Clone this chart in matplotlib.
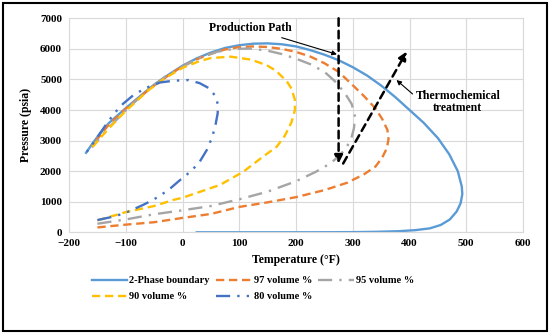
import matplotlib
matplotlib.use("Agg")
import matplotlib.pyplot as plt
from matplotlib.patches import Rectangle

# 2-phase boundary
t_2ph = [-170, -160, -150, -130, -100, -75, -50, -25, 0, 25, 50, 75, 100, 125, 150, 175, 200, 225,
         250, 275, 300, 325, 350, 375, 400, 425, 450, 470, 485, 492, 493, 490, 483, 471, 455, 436,
         410, 380, 340, 300, 250, 200, 150, 100, 50, 25]
p_2ph = [2600, 2870, 3120, 3570, 4060, 4450, 4830, 5150, 5450, 5690, 5880, 6030, 6120, 6170, 6180,
         6150, 6080, 5960, 5810, 5630, 5400, 5130, 4800, 4420, 4000, 3580, 3080, 2550, 2000, 1500,
         1250, 950, 680, 420, 240, 130, 70, 35, 15, 5, 2, 0, 0, 0, 0, 0]

# 97 volume %
t_97 = [-150, -100, -50, 0, 50, 100, 150, 200, 250, 290, 320, 340, 352, 360, 363, 361, 352, 340,
        320, 300, 275, 250, 225, 200, 175, 150, 125, 100, 75, 50, 25, 0, -25, -50, -75, -100,
        -130, -160]
p_97 = [160, 250, 330, 470, 600, 830, 980, 1150, 1380, 1620, 1900, 2150, 2450, 2750, 3050, 3350,
        3700, 4050, 4450, 4810, 5250, 5530, 5750, 5900, 6000, 6060, 6080, 6060, 5980, 5840, 5660,
        5430, 5130, 4800, 4430, 4040, 3520, 2820]

# 95 volume %
t_95 = [-150, -100, -50, 0, 50, 100, 150, 200, 235, 260, 275, 288, 297, 302, 304, 298, 285, 268,
        250, 225, 200, 175, 150, 120, 90, 60, 30, 0, -30, -60, -100, -130, -160]
p_95 = [280, 420, 590, 720, 860, 1080, 1330, 1670, 1980, 2250, 2480, 2750, 3050, 3400, 3780, 4200,
        4580, 4950, 5250, 5500, 5680, 5830, 5940, 6010, 6000, 5900, 5700, 5420, 5100, 4680, 3990,
        3420, 2780]

# 90 volume %
t_90 = [-150, -100, -50, -16, 0, 30, 66, 107, 140, 166, 180, 192, 198, 198, 192, 184, 165, 148, 120,
        85, 50, 30, 0, -30, -60, -100, -130, -160]
p_90 = [390, 660, 860, 1060, 1130, 1320, 1550, 1980, 2450, 2800, 3150, 3600, 4000, 4330, 4700, 4930,
        5280, 5470, 5650, 5745, 5700, 5600, 5380, 5050, 4650, 3970, 3400, 2760]

# 80 volume %
t_80 = [-150, -120, -100, -69, -50, -25, -5, 15, 30, 43, 52, 58, 62, 62, 58, 48, 30, 10, -15, -40,
        -65, -87, -105, -116, -130, -145, -158, -170]
p_80 = [400, 520, 640, 900, 1080, 1380, 1700, 2000, 2300, 2700, 3100, 3500, 3900, 4200, 4450, 4700,
        4880, 4980, 4960, 4900, 4720, 4480, 4200, 3980, 3650, 3250, 2900, 2600]

xticks = [-200, -100, 0, 100, 200, 300, 400, 500, 600]
yticks = [0, 1000, 2000, 3000, 4000, 5000, 6000, 7000]

plt.rcParams['font.family'] = ['Liberation Serif', 'DejaVu Serif']
plt.rcParams['font.weight'] = 'bold'

fig = plt.figure(figsize=(5.5, 3.34), dpi=100)
ax = fig.add_axes([0.1255, 0.3045, 0.8255, 0.6407])

l_2ph, = ax.plot(t_2ph, p_2ph, color='#5B9BD5', lw=1.7, label='2-Phase boundary')
l_97, = ax.plot(t_97, p_97, color='#ED7D31', lw=1.7, ls=(0, (3.5, 2)), label='97 volume %')
l_95, = ax.plot(t_95, p_95, color='#A5A5A5', lw=1.7, ls=(0, (6, 3, 1, 3)), label='95 volume %')
l_90, = ax.plot(t_90, p_90, color='#FFC000', lw=1.7, ls=(0, (3.5, 2)), label='90 volume %')
l_80, = ax.plot(t_80, p_80, color='#4472C4', lw=1.7, ls=(0, (6, 3, 1, 3, 1, 3)), label='80 volume %')

# process arrows
ax.annotate('', xy=(275, 2250), xytext=(275, 7000),
            arrowprops=dict(arrowstyle='-|>', color='black', lw=1.8, ls=(0, (3, 2)),
                            mutation_scale=12, shrinkA=0, shrinkB=0))
ax.annotate('', xy=(395, 5910), xytext=(283, 2250),
            arrowprops=dict(arrowstyle='-|>', color='black', lw=1.8, ls=(0, (3, 2)),
                            mutation_scale=12, shrinkA=0, shrinkB=0))

ax.annotate('Production Path', xy=(272, 5820), xytext=(119, 6680), fontsize=8.5,
            fontweight='bold', ha='center', va='center',
            arrowprops=dict(arrowstyle='-|>', color='black', lw=0.8, mutation_scale=7,
                            shrinkA=2, shrinkB=0))
ax.annotate('Thermochemical\ntreatment', xy=(377, 4980), xytext=(485, 4250), fontsize=8.5,
            fontweight='bold', ha='center', va='center', linespacing=1.0,
            arrowprops=dict(arrowstyle='-|>', color='black', lw=0.8, mutation_scale=7,
                            shrinkA=0, shrinkB=0, relpos=(0.0, 0.75)))

ax.set_xlim(-200, 600)
ax.set_ylim(0, 7000)
ax.set_xticks(xticks)
ax.set_yticks(yticks)
ax.tick_params(length=0, labelsize=8, pad=5)
ax.grid(True, color='#D9D9D9', lw=0.8)
ax.set_axisbelow(True)
for s in ax.spines.values():
    s.set_color('#D9D9D9')
    s.set_linewidth(0.8)

ax.set_xlabel('Temperature (°F)', fontsize=8.5, fontweight='bold', labelpad=4)
ax.set_ylabel('Pressure (psia)', fontsize=8.5, fontweight='bold', labelpad=6)

handles = [l_2ph, l_90, l_97, l_80, l_95]
fig.legend(handles=handles, labels=[h.get_label() for h in handles], ncol=3,
           loc='center', bbox_to_anchor=(0.46, 0.136), frameon=False, fontsize=7.5,
           handlelength=3.4, handletextpad=0.2, columnspacing=0.6, labelspacing=0.65)

fig.patches.append(Rectangle((0.006, 0.01), 0.988, 0.982, transform=fig.transFigure,
                             fill=False, edgecolor='black', lw=1.5))

fig.savefig('out.png', dpi=100)
